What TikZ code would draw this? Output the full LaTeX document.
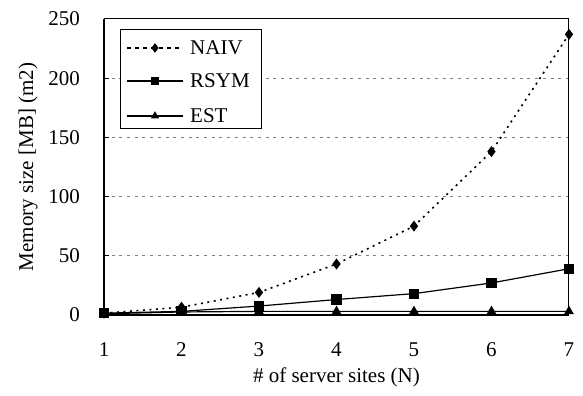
\documentclass[tikz,border=0pt]{standalone}
\usepackage{fontspec}
\setmainfont{Liberation Serif}
\usetikzlibrary{plotmarks, positioning, calc}

\tikzset{
  gridline/.style={gray, line width=0.8pt, dash pattern=on 3pt off 4.7pt},
  naivline/.style={line width=1.6pt, dash pattern=on 2pt off 4.5pt, mark=diamond*, mark size=4.2pt, mark options={solid}},
  rsymline/.style={line width=1.2pt, mark=square*, mark size=4.5pt, mark options={solid}},
  estline/.style={line width=1.2pt, mark=triangle*, mark size=4.5pt, mark options={solid}},
  ticklabel/.style={inner sep=0pt, font=\fontsize{21}{25}\selectfont},
  axistitle/.style={inner sep=0pt, font=\fontsize{21}{25}\selectfont},
  legtext/.style={anchor=west, inner sep=0pt, font=\fontsize{21}{25}\selectfont}
}

\begin{document}
\begin{tikzpicture}[x=77.5pt, y=1.184pt]
  \useasboundingbox (-0.342,-68.4) rectangle (7.181,266);

  % grid, frame and ticks

  \foreach \v in {50,100,150,200}
    \draw[gridline] (1,\v) -- (7,\v);
  \draw[line width=1pt] (1,250) -- (7,250) -- (7,0);
  \draw[line width=1.5pt] (1,250) -- (1,0) -- (7,0);
  \foreach \v in {0,50,100,150,200,250}
    \draw[line width=1pt] (1,\v) -- ++(5pt,0);

  % tick labels

  \foreach \v in {0,50,100,150,200,250}
    \node[ticklabel, anchor=east] (ylab\v) at ($(1,\v)+(-24pt,0)$) {\v};
  \foreach \n in {1,...,7}
    \node[ticklabel, anchor=base] (xlab\n) at (\n,-35.1) {\n};

  % axis titles

  \node[axistitle, anchor=base] (xtitle) at (4,-57.4) {\# of server sites (N)};
  \node[axistitle, anchor=base, rotate=90] (ytitle) at (0.084,125) {Memory size [MB] (m2)};

  % data series

  \draw[estline] plot coordinates {(1,1) (2,2.5) (3,3) (4,3) (5,3) (6,3) (7,3)};
  \draw[rsymline] plot coordinates {(1,1.5) (2,3) (3,7.5) (4,13) (5,18) (6,27) (7,39)};
  \draw[naivline] plot coordinates {(1,1.5) (2,6.5) (3,19) (4,43) (5,75) (6,138) (7,237)};

  % legend

  \draw[line width=1pt, fill=white] (1.219,157.1) rectangle (3.026,240.7);
  \draw[naivline, dash pattern=on 4pt off 4pt, mark size=3.5pt, mark indices={2}]
    plot coordinates {(1.297,225.5) (1.658,225.5) (2.019,225.5)};
  \draw[rsymline, mark size=3.8pt, mark indices={2}]
    plot coordinates {(1.297,197.6) (1.658,197.6) (2.019,197.6)};
  \draw[estline, mark size=3.6pt, mark indices={2}]
    plot coordinates {(1.297,168) (1.658,168) (2.019,168)};
  \node[legtext] (legnaiv) at (2.11,225.5) {NAIV};
  \node[legtext] (legrsym) at (2.11,197.6) {RSYM};
  \node[legtext] (legest) at (2.11,168) {EST};

\end{tikzpicture}
\end{document}
